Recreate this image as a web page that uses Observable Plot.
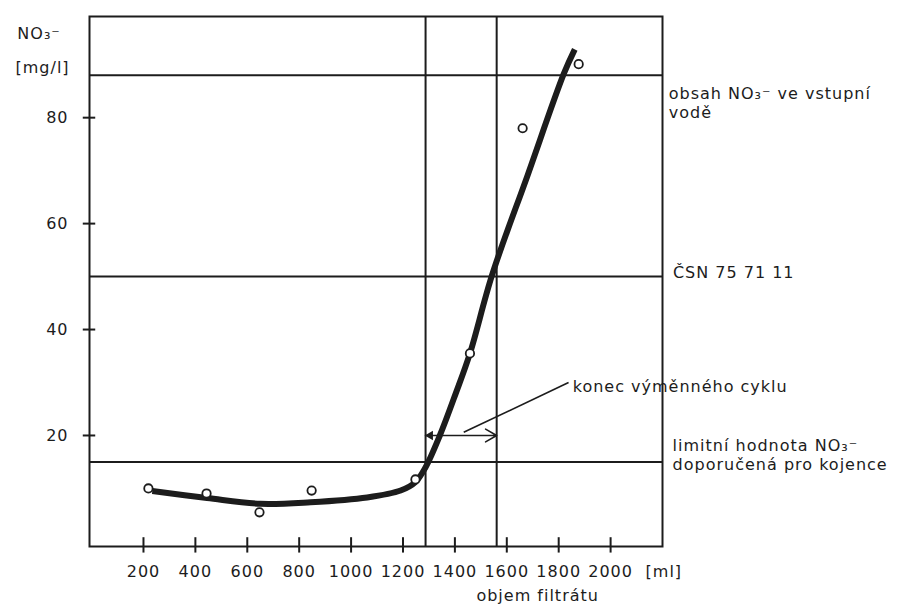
<!DOCTYPE html>
<html>
<head>
<meta charset="utf-8">
<script src="https://cdn.jsdelivr.net/npm/d3@7"></script>
<script src="https://cdn.jsdelivr.net/npm/@observablehq/plot@0.6"></script>
<style>
  html, body { margin: 0; padding: 0; background: #fff; }
</style>
</head>
<body>
<script>
// measured points (objem filtrátu [ml], NO3- [mg/l])
const pointX = [219, 443, 647, 848, 1248, 1458, 1661, 1877];
const pointY = [10.0, 9.05, 5.5, 9.6, 11.7, 35.5, 78.0, 90.1];

// fitted curve drawn through the points
const curveX = [234, 445, 651, 844, 1062, 1191, 1248, 1287, 1342, 1403, 1458, 1544, 1680, 1819, 1862];
const curveY = [9.5, 8.2, 7.1, 7.4, 8.3, 9.6, 11.2, 14.0, 20, 27.9, 35.5, 50.4, 69.1, 88.2, 92.9];

// reference levels
const levelY = [88, 50, 15];
const levelX = [1287, 1561];

// axis ticks
const xTicks = [200, 400, 600, 800, 1000, 1200, 1400, 1600, 1800, 2000];
const yTicks = [20, 40, 60, 80];

// annotation texts
const notes = [
  {x: 2224, y: 83.6, text: "obsah NO₃⁻ ve vstupní"},
  {x: 2224, y: 80.0, text: "vodě"},
  {x: 2240, y: 49.8, text: "ČSN 75 71 11"},
  {x: 2239, y: 17.0, text: "limitní hodnota NO₃⁻"},
  {x: 2239, y: 13.4, text: "doporučená pro kojence"},
  {x: 1854, y: 28.3, text: "konec výměnného cyklu"},
  {x: -286, y: 94.8, text: "NO₃⁻"},
  {x: -293, y: 88.4, text: "[mg/l]"}
];

const pts = pointX.map((x, i) => ({x, y: pointY[i]}));
const curve = curveX.map((x, i) => ({x, y: curveY[i]}));

const ink = "#1c1c1c";
const font = "DejaVu Sans";

const chart = Plot.plot({
  width: 907,
  height: 604,
  marginLeft: 89,
  marginRight: 245,
  marginTop: 16,
  marginBottom: 58,
  x: {domain: [-8, 2200]},
  y: {domain: [-0.96, 99.1]},
  style: {fontFamily: font, fontSize: "16px", background: "#fff", color: ink, letterSpacing: "1px"},
  marks: [
    Plot.frame({stroke: ink, strokeWidth: 2}),
    Plot.ruleY(levelY, {stroke: ink, strokeWidth: 2}),
    Plot.ruleX(levelX, {stroke: ink, strokeWidth: 2}),
    // crossing tick marks
    Plot.ruleX(xTicks, {y1: -2.2, y2: 0.7, stroke: ink, strokeWidth: 2}),
    Plot.ruleY(yTicks, {x1: -32, x2: 16, stroke: ink, strokeWidth: 2}),
    Plot.axisX({ticks: xTicks, tickFormat: d => String(d), tickSize: 0, tickPadding: 19, label: null, fontSize: 16}),
    Plot.axisY({ticks: yTicks, tickFormat: d => String(d), tickSize: 0, tickPadding: 21, label: null, fontSize: 16}),
    // arrow marking end of exchange cycle
    Plot.arrow([{x1: 1287, x2: 1561, y: 20}], {x1: "x1", x2: "x2", y1: "y", y2: "y", stroke: ink, strokeWidth: 1.6, headLength: 12, bend: 0}),
    Plot.dot([{x: 1305, y: 20}], {x: "x", y: "y", symbol: "triangle", r: 3.5, rotate: -90, fill: ink, stroke: "none"}),
    Plot.link([{x1: 1434, y1: 20.6, x2: 1838, y2: 30.0}], {x1: "x1", y1: "y1", x2: "x2", y2: "y2", stroke: ink, strokeWidth: 1.6}),
    // curve
    Plot.line(curve, {x: "x", y: "y", curve: "catmull-rom", stroke: ink, strokeWidth: 6, strokeLinecap: "butt"}),
    // measured points
    Plot.dot(pts, {x: "x", y: "y", r: 4.2, fill: "#fff", stroke: ink, strokeWidth: 1.8}),
    // texts
    Plot.text(notes, {x: "x", y: "y", text: "text", textAnchor: "start", lineAnchor: "bottom", fontSize: 16, fill: ink}),
    Plot.text(["[ml]"], {x: 2205, y: -6.7, text: d => d, textAnchor: "middle", lineAnchor: "bottom", fontSize: 16, fill: ink}),
    Plot.text(["objem filtrátu"], {x: 1719, y: -11.2, text: d => d, textAnchor: "middle", lineAnchor: "bottom", fontSize: 16, fill: ink})
  ]
});

document.body.appendChild(chart);
</script>
</body>
</html>
